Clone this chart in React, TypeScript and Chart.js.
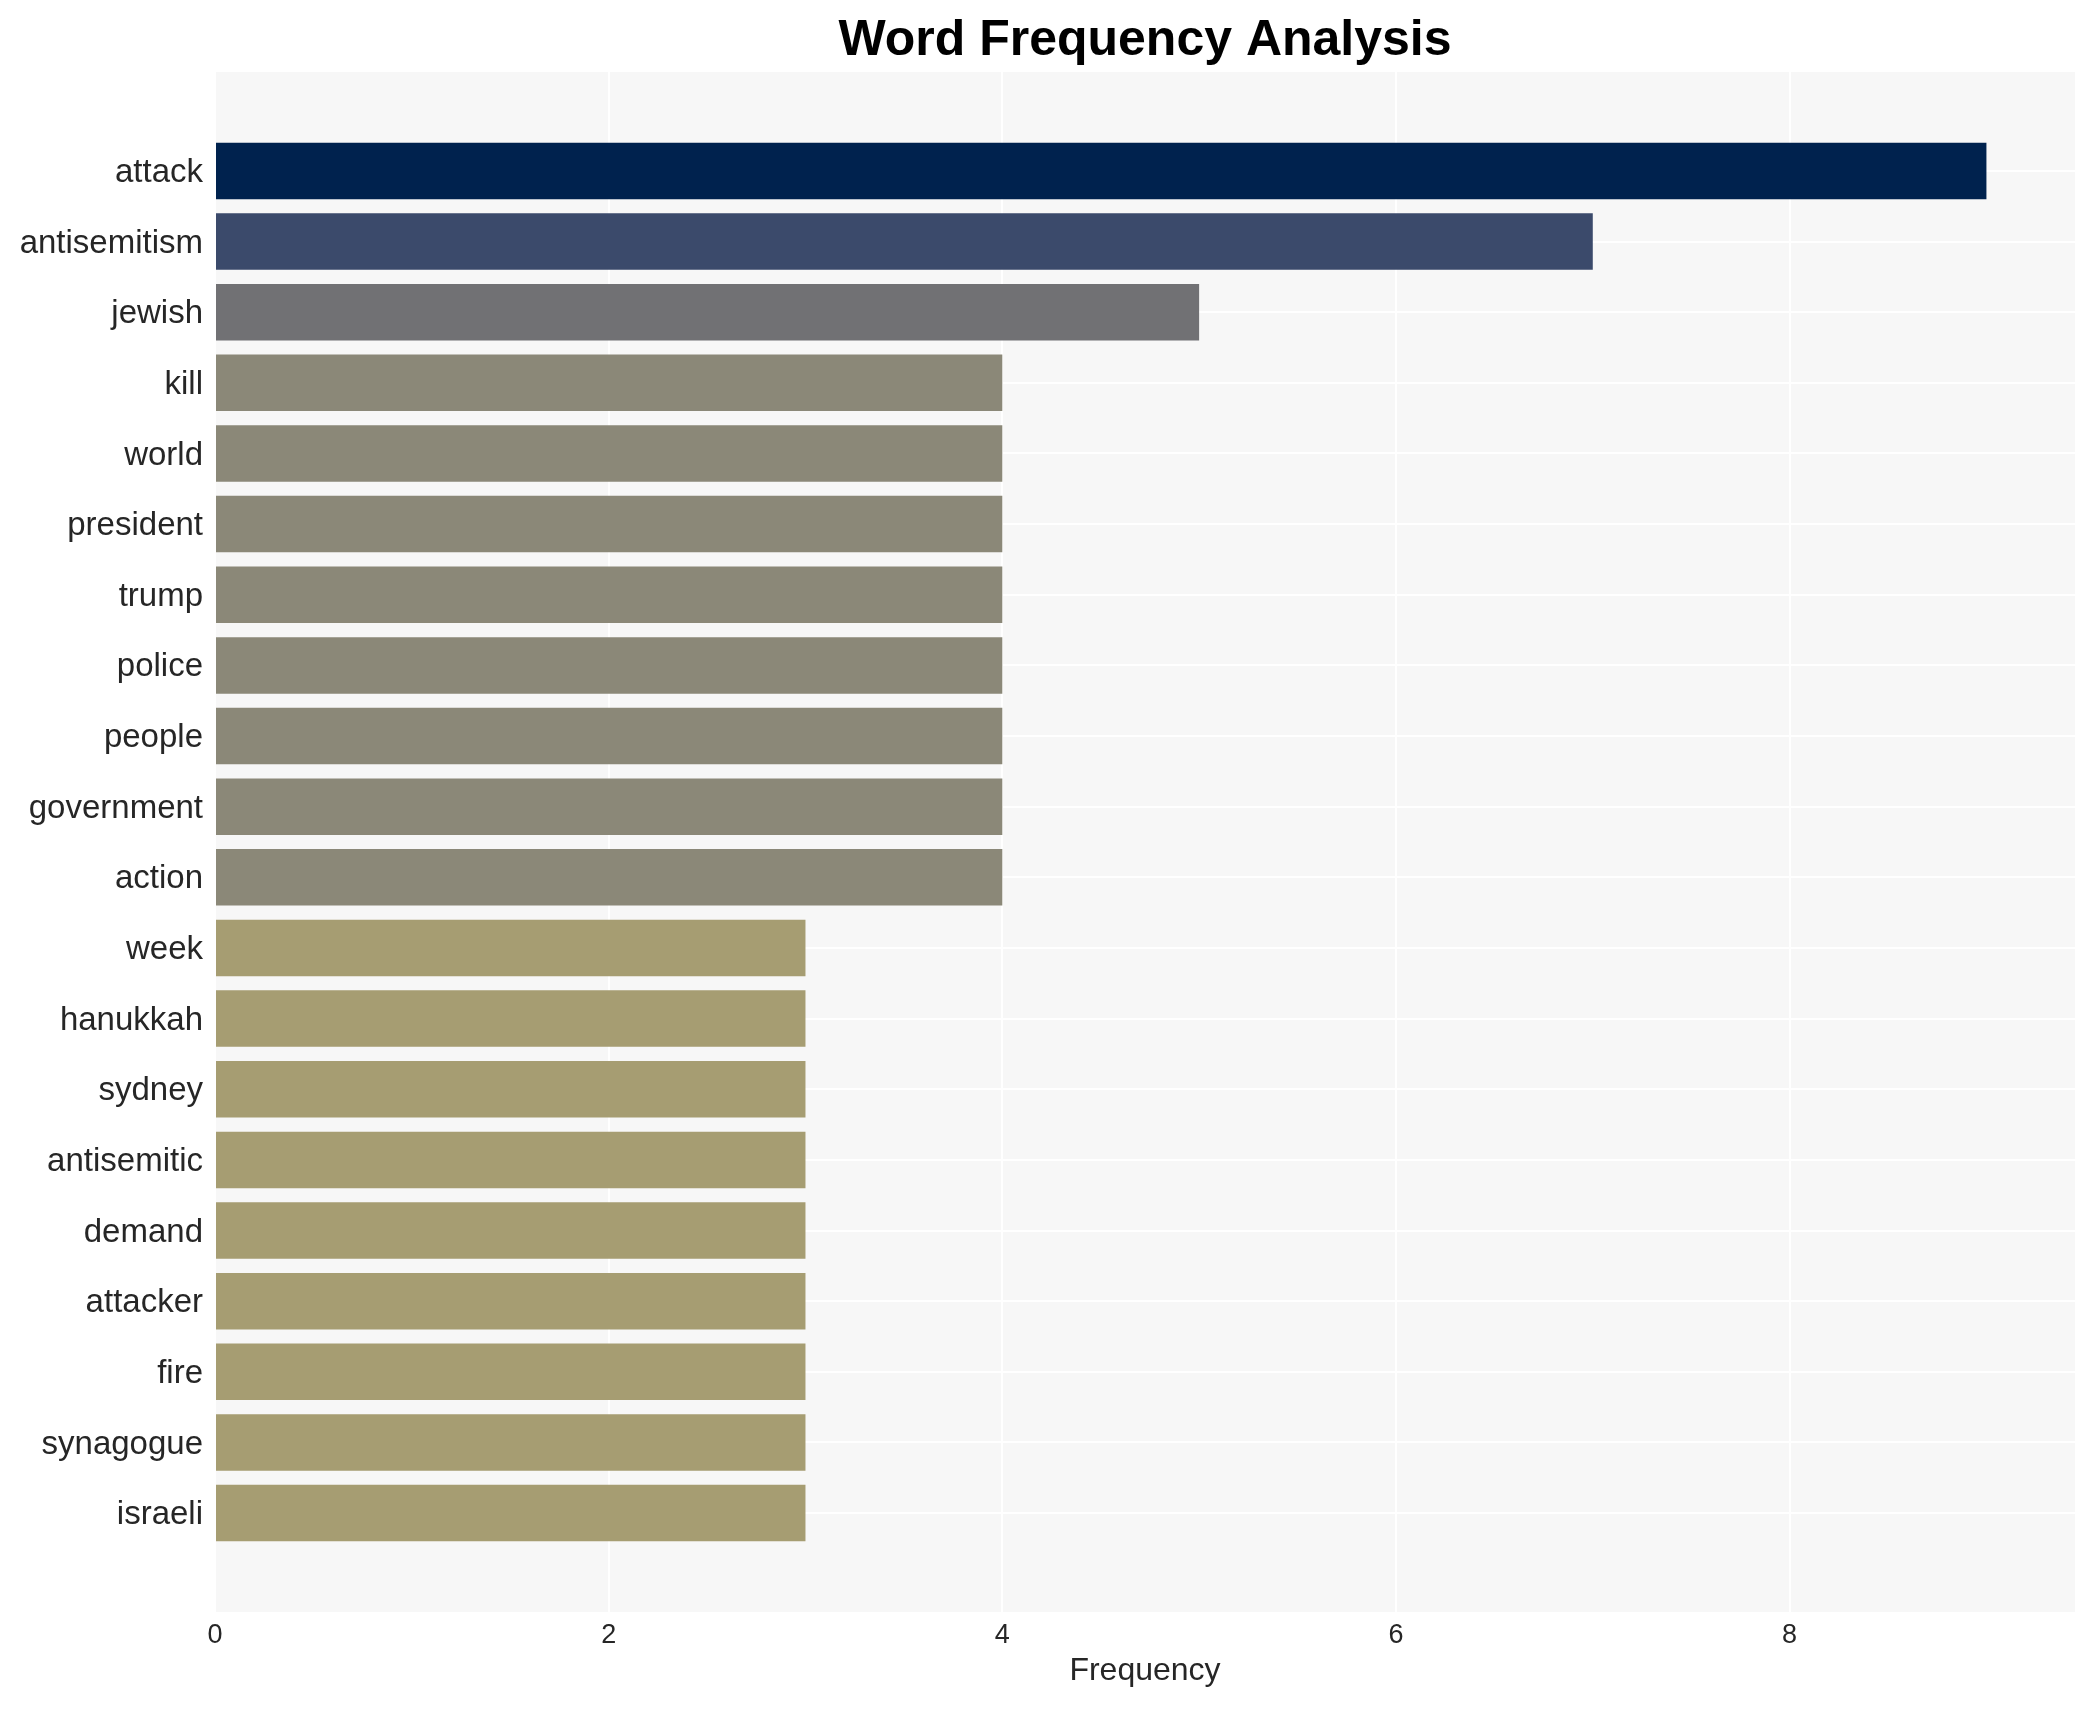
import React, { useEffect, useRef } from "react";
import { Chart, registerables } from "chart.js";

Chart.register(...registerables);

const categories = [
  "attack", "antisemitism", "jewish", "kill", "world", "president", "trump",
  "police", "people", "government", "action", "week", "hanukkah", "sydney",
  "antisemitic", "demand", "attacker", "fire", "synagogue", "israeli",
];
const values = [9, 7, 5, 4, 4, 4, 4, 4, 4, 4, 4, 3, 3, 3, 3, 3, 3, 3, 3, 3];
const barColors = [
  "#00224e", "#3b4a6b", "#717174",
  "#8b8878", "#8b8878", "#8b8878", "#8b8878", "#8b8878", "#8b8878", "#8b8878", "#8b8878",
  "#a69d72", "#a69d72", "#a69d72", "#a69d72", "#a69d72", "#a69d72", "#a69d72", "#a69d72", "#a69d72",
];
const xTicks = [0, 2, 4, 6, 8];

const W = 2094;
const H = 1710;
const FONT = "'Liberation Sans', Arial, Helvetica, sans-serif";

const bgPlugin = {
  id: "plotBg",
  beforeDraw(chart: any) {
    const { ctx, chartArea } = chart;
    if (!chartArea) return;
    ctx.save();
    ctx.fillStyle = "#f7f7f7";
    ctx.fillRect(chartArea.left, chartArea.top, chartArea.right - chartArea.left, chartArea.bottom - chartArea.top);
    ctx.restore();
  },
};

export default function App() {
  const ref = useRef<HTMLCanvasElement | null>(null);
  useEffect(() => {
    if (!ref.current) return;
    const chart = new Chart(ref.current, {
      type: "bar",
      data: {
        datasets: [
          {
            data: values.map((v, i) => ({ x: v, y: i })),
            backgroundColor: barColors,
            borderWidth: 0,
            barPercentage: 0.8,
            categoryPercentage: 1,
          },
        ],
      },
      options: {
        indexAxis: "y",
        animation: false,
        responsive: false,
        devicePixelRatio: 1,
        layout: { padding: { top: 0, left: 0, right: 19, bottom: 0 } },
        plugins: {
          legend: { display: false },
          tooltip: { enabled: false },
          title: {
            display: true,
            text: "Word Frequency Analysis",
            fullSize: false,
            color: "#000000",
            font: { family: FONT, size: 50, weight: "bold" },
            padding: { top: 11, bottom: 1 },
          },
        },
        scales: {
          x: {
            type: "linear",
            position: "bottom",
            min: 0,
            max: 9.45,
            afterFit: (s: any) => { s.height = 98; },
            afterBuildTicks: (s: any) => { s.ticks = xTicks.map((v) => ({ value: v })); },
            ticks: {
              color: "#262626",
              font: { family: FONT, size: 27 },
              padding: 7,
              includeBounds: false,
            },
            grid: { color: "#ffffff", lineWidth: 2, drawTicks: false },
            border: { display: false },
            title: {
              display: true,
              text: "Frequency",
              color: "#262626",
              font: { family: FONT, size: 32 },
              padding: { top: 0, bottom: 20 },
            },
          },
          y: {
            type: "linear",
            position: "left",
            reverse: true,
            offset: false,
            min: -1.4,
            max: 20.4,
            afterFit: (s: any) => { s.width = 215; },
            afterBuildTicks: (s: any) => { s.ticks = categories.map((_, i) => ({ value: i })); },
            ticks: {
              color: "#262626",
              font: { family: FONT, size: 33 },
              padding: 12,
              labelOffset: 2,
              autoSkip: false,
              callback: (v: any) => categories[v as number] ?? "",
            },
            grid: { color: "#ffffff", lineWidth: 2, drawTicks: false, offset: false },
            border: { display: false },
          },
        },
      },
      plugins: [bgPlugin],
    });
    return () => chart.destroy();
  }, []);
  return (
    <div style={{ position: "fixed", left: 0, top: 0, width: W, height: H, background: "#ffffff" }}>
      <canvas ref={ref} width={W} height={H} style={{ width: W, height: H, display: "block" }} />
    </div>
  );
}
